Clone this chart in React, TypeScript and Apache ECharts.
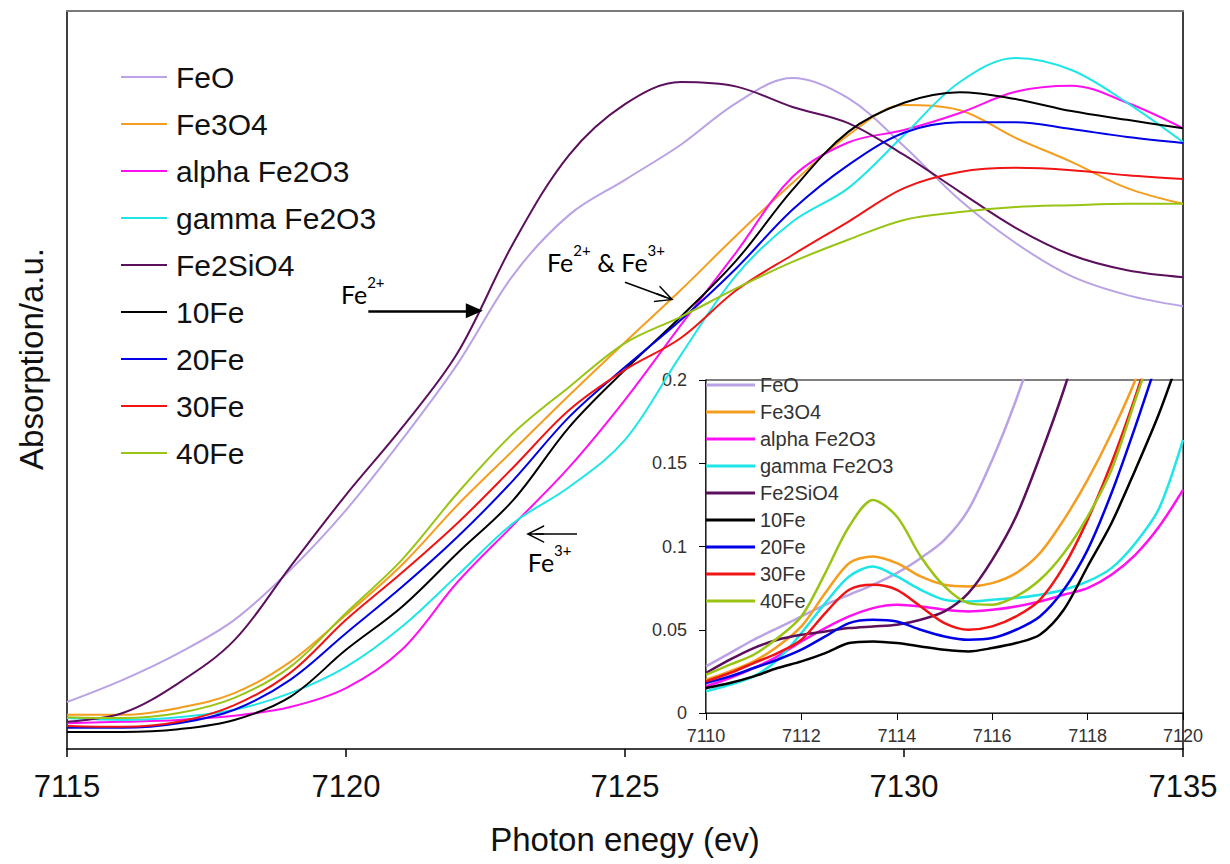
import React, { useEffect, useRef } from 'react';
import * as echarts from 'echarts';

// ---------- data ----------
const seriesNames = ['FeO', 'Fe3O4', 'alpha Fe2O3', 'gamma Fe2O3', 'Fe2SiO4', '10Fe', '20Fe', '30Fe', '40Fe'];
const seriesColors = ['#b9a2e6', '#f59d1e', '#ff10f0', '#1fe6e6', '#5c0f5c', '#000000', '#0000e6', '#f01414', '#99c413'];

// main plot: photon energy (eV) and normalized absorption
const mainEnergy = [7115, 7116, 7117, 7118, 7119, 7120, 7121, 7122, 7123, 7124, 7125, 7126, 7127, 7128, 7129, 7130, 7131, 7132, 7133, 7134, 7135];
const mainFeO = [0.102, 0.150, 0.208, 0.280, 0.388, 0.518, 0.670, 0.835, 1.028, 1.158, 1.234, 1.310, 1.401, 1.455, 1.411, 1.307, 1.190, 1.097, 1.025, 0.984, 0.960];
const mainFe3O4 = [0.074, 0.074, 0.089, 0.121, 0.189, 0.291, 0.399, 0.529, 0.648, 0.767, 0.882, 0.995, 1.114, 1.227, 1.331, 1.396, 1.385, 1.325, 1.273, 1.216, 1.182];
const mainAlpha = [0.056, 0.059, 0.063, 0.072, 0.091, 0.132, 0.215, 0.362, 0.486, 0.611, 0.757, 0.919, 1.078, 1.240, 1.315, 1.342, 1.379, 1.425, 1.438, 1.401, 1.346];
const mainGamma = [0.067, 0.063, 0.069, 0.085, 0.121, 0.178, 0.265, 0.377, 0.490, 0.568, 0.670, 0.854, 1.028, 1.143, 1.216, 1.331, 1.446, 1.498, 1.472, 1.401, 1.316];
const mainFe2SiO4 = [0.059, 0.078, 0.143, 0.236, 0.395, 0.551, 0.696, 0.859, 1.097, 1.288, 1.398, 1.446, 1.436, 1.392, 1.357, 1.288, 1.208, 1.130, 1.071, 1.038, 1.023];
const main10Fe = [0.037, 0.037, 0.043, 0.063, 0.113, 0.215, 0.308, 0.425, 0.540, 0.698, 0.822, 0.937, 1.060, 1.212, 1.338, 1.401, 1.424, 1.409, 1.383, 1.364, 1.346];
const main20Fe = [0.046, 0.046, 0.056, 0.085, 0.150, 0.251, 0.351, 0.460, 0.583, 0.720, 0.828, 0.930, 1.043, 1.169, 1.266, 1.336, 1.359, 1.359, 1.344, 1.327, 1.314];
const main30Fe = [0.050, 0.048, 0.059, 0.095, 0.165, 0.280, 0.382, 0.490, 0.611, 0.735, 0.822, 0.891, 0.995, 1.071, 1.143, 1.216, 1.251, 1.260, 1.255, 1.244, 1.236];
const main40Fe = [0.069, 0.067, 0.078, 0.111, 0.178, 0.295, 0.410, 0.555, 0.685, 0.785, 0.880, 0.937, 0.999, 1.056, 1.104, 1.147, 1.164, 1.175, 1.179, 1.182, 1.182];

// inset: pre-edge region
const insetEnergy = [7110, 7110.5, 7111, 7111.5, 7112, 7112.5, 7113, 7113.5, 7114, 7114.5, 7115, 7115.5, 7116, 7116.5, 7117, 7117.5, 7118, 7118.5, 7119, 7119.5, 7120];
const insetFeO = [0.028, 0.036, 0.044, 0.051, 0.058, 0.065, 0.071, 0.077, 0.084, 0.093, 0.104, 0.122, 0.152, 0.188, 0.230, null, null, null, null, null, null];
const insetFe3O4 = [0.020, 0.025, 0.031, 0.040, 0.052, 0.072, 0.090, 0.094, 0.090, 0.082, 0.077, 0.076, 0.078, 0.084, 0.096, 0.116, 0.140, 0.168, 0.200, 0.240, null];
const insetAlpha = [0.016, 0.021, 0.027, 0.034, 0.043, 0.051, 0.058, 0.063, 0.065, 0.064, 0.062, 0.061, 0.062, 0.064, 0.067, 0.071, 0.075, 0.083, 0.095, 0.112, 0.134];
const insetGamma = [0.013, 0.017, 0.022, 0.032, 0.048, 0.066, 0.082, 0.088, 0.082, 0.074, 0.068, 0.067, 0.068, 0.069, 0.071, 0.074, 0.079, 0.087, 0.102, 0.123, 0.164];
const insetFe2SiO4 = [0.024, 0.032, 0.039, 0.044, 0.047, 0.049, 0.051, 0.052, 0.053, 0.056, 0.061, 0.072, 0.092, 0.118, 0.154, 0.194, 0.240, null, null, null, null];
const inset10Fe = [0.015, 0.018, 0.022, 0.027, 0.031, 0.036, 0.042, 0.043, 0.042, 0.040, 0.038, 0.037, 0.039, 0.042, 0.047, 0.062, 0.088, 0.114, 0.146, 0.180, 0.220];
const inset20Fe = [0.018, 0.022, 0.027, 0.032, 0.038, 0.046, 0.054, 0.056, 0.055, 0.050, 0.046, 0.044, 0.045, 0.050, 0.058, 0.074, 0.098, 0.132, 0.172, 0.215, null];
const inset30Fe = [0.019, 0.024, 0.030, 0.036, 0.044, 0.060, 0.074, 0.077, 0.074, 0.064, 0.054, 0.050, 0.052, 0.058, 0.068, 0.088, 0.116, 0.150, 0.190, 0.235, null];
const inset40Fe = [0.023, 0.029, 0.035, 0.045, 0.058, 0.084, 0.112, 0.128, 0.118, 0.094, 0.076, 0.066, 0.065, 0.070, 0.080, 0.096, 0.118, 0.146, 0.188, 0.230, null];

const mainValues = [mainFeO, mainFe3O4, mainAlpha, mainGamma, mainFe2SiO4, main10Fe, main20Fe, main30Fe, main40Fe];
const insetValues = [insetFeO, insetFe3O4, insetAlpha, insetGamma, insetFe2SiO4, inset10Fe, inset20Fe, inset30Fe, inset40Fe];

// axis ranges / ticks
const mainXMin = 7115, mainXMax = 7135, mainXStep = 5;
const mainYMin = 0, mainYMax = 1.6;
const insetXMin = 7110, insetXMax = 7120, insetXStep = 2;
const insetYMin = 0, insetYMax = 0.2, insetYStep = 0.05;

// annotations (data coordinates)
const annoFe2Text = [7120.3, 0.995];
const annoFe2Arrow = [[7120.4, 0.95], [7122.3, 0.95]];
const annoMixText = [7124.66, 1.064];
const annoMixArrow = [[7125.0, 1.012], [7125.72, 0.98]];
const annoFe3Text = [7123.65, 0.414];
const annoFe3Arrow = [[7124.14, 0.466], [7123.39, 0.466]];

const SANS = '"Liberation Sans", Arial, sans-serif';
const CAL = 'Lato, "Open Sans", sans-serif';

const chevron = 'path://M9,0 L18,18 L16.4,18 L9.8,4.8 L9.8,18 L8.2,18 L8.2,4.8 L1.6,18 L0,18 Z';

const richSup = {
  b: { fontSize: 25, fontFamily: CAL, color: '#000', lineHeight: 32, verticalAlign: 'bottom' },
  s: { fontSize: 15, fontFamily: CAL, color: '#000', lineHeight: 16, verticalAlign: 'top' },
};

const plainNum = (v: number) => String(v);

export default function App() {
  const ref = useRef<HTMLDivElement>(null);
  useEffect(() => {
    if (!ref.current) return;
    const chart = echarts.init(ref.current, null, { renderer: 'svg' });

    const mainSeries = seriesNames.map((name, i) => {
      const s: any = {
        name,
        type: 'line',
        xAxisIndex: 0,
        yAxisIndex: 0,
        data: mainEnergy.map((e, j) => [e, mainValues[i][j]]),
        symbol: 'none',
        smooth: 0.35,
        lineStyle: { color: seriesColors[i], width: 2 },
        itemStyle: { color: seriesColors[i] },
        z: 3,
      };
      if (name === '10Fe') {
        s.markLine = {
          silent: true,
          animation: false,
          label: { show: false },
          data: [
            [
              { coord: annoFe2Arrow[0], symbol: 'none', lineStyle: { color: '#000', width: 2.5, type: 'solid' } },
              { coord: annoFe2Arrow[1], symbol: 'triangle', symbolSize: [15, 17] },
            ],
            [
              { coord: annoMixArrow[0], symbol: 'none', lineStyle: { color: '#000', width: 1.6, type: 'solid' } },
              { coord: annoMixArrow[1], symbol: chevron, symbolSize: [18, 18] },
            ],
            [
              { coord: annoFe3Arrow[0], symbol: 'none', lineStyle: { color: '#000', width: 1.6, type: 'solid' } },
              { coord: annoFe3Arrow[1], symbol: chevron, symbolSize: [18, 18] },
            ],
          ],
          lineStyle: { color: '#000', type: 'solid' },
          itemStyle: { color: '#000' },
        };
        s.markPoint = {
          silent: true,
          animation: false,
          symbol: 'circle',
          symbolSize: 1,
          itemStyle: { color: 'rgba(0,0,0,0)' },
          label: { show: true, position: 'inside', rich: richSup },
          data: [
            { coord: annoFe2Text, label: { formatter: '{b|Fe}{s|2+}', rich: richSup } },
            { coord: annoMixText, label: { formatter: '{b|Fe}{s|2+}{b| & Fe}{s|3+}', rich: richSup } },
            { coord: annoFe3Text, label: { formatter: '{b|Fe}{s|3+}', rich: richSup } },
          ],
        };
      }
      return s;
    });

    const insetSeries = seriesNames.map((name, i) => ({
      name,
      type: 'line',
      xAxisIndex: 2,
      yAxisIndex: 2,
      data: insetEnergy.map((e, j) => [e, insetValues[i][j]]),
      symbol: 'none',
      smooth: 0.3,
      connectNulls: false,
      lineStyle: { color: seriesColors[i], width: 2.5 },
      itemStyle: { color: seriesColors[i] },
      z: 4,
    }));

    chart.setOption({
      animation: false,
      backgroundColor: '#fff',
      textStyle: { fontFamily: SANS },
      grid: [
        { left: 67, right: 47, top: 11, bottom: 115, containLabel: false },
        { left: 706, right: 47, top: 380, bottom: 151, containLabel: false, show: true, backgroundColor: '#fff', borderColor: '#000', borderWidth: 1, z: 1 },
      ],
      legend: [
        {
          data: seriesNames,
          orient: 'vertical',
          left: 121,
          top: 62,
          padding: 0,
          icon: 'rect',
          itemWidth: 46,
          itemHeight: 2,
          itemGap: 17,
          selectedMode: false,
          textStyle: { fontSize: 30, color: '#111', fontFamily: SANS, padding: [0, 0, 0, 4] },
        },
        {
          data: seriesNames,
          orient: 'vertical',
          left: 706,
          top: 375,
          padding: 0,
          icon: 'rect',
          itemWidth: 49,
          itemHeight: 3,
          itemGap: 7,
          selectedMode: false,
          textStyle: { fontSize: 20, color: '#333', fontFamily: SANS },
          z: 5,
        },
      ],
      xAxis: [
        {
          gridIndex: 0, type: 'value', min: mainXMin, max: mainXMax, interval: mainXStep, position: 'bottom',
          axisLine: { show: true, onZero: false, lineStyle: { color: '#000', width: 1.5 } },
          axisTick: { show: true, inside: false, length: 8, lineStyle: { color: '#000', width: 1.5 } },
          axisLabel: { fontSize: 31, color: '#111', margin: 22, fontFamily: SANS, formatter: plainNum },
          splitLine: { show: false },
          name: 'Photon enegy (ev)', nameLocation: 'middle', nameGap: 74,
          nameTextStyle: { fontSize: 33, color: '#111', fontFamily: SANS },
        },
        {
          gridIndex: 0, type: 'value', min: mainXMin, max: mainXMax, position: 'top',
          axisLine: { show: true, onZero: false, lineStyle: { color: '#7a7a7a', width: 2 } },
          axisTick: { show: false }, axisLabel: { show: false }, splitLine: { show: false },
        },
        {
          gridIndex: 1, type: 'value', min: insetXMin, max: insetXMax, interval: insetXStep, position: 'bottom',
          axisLine: { show: true, onZero: false, lineStyle: { color: '#000', width: 1.5 } },
          axisTick: { show: true, inside: false, length: 7, lineStyle: { color: '#000' } },
          axisLabel: { fontSize: 18, color: '#333', margin: 14, fontFamily: SANS, formatter: plainNum },
          splitLine: { show: false },
        },
      ],
      yAxis: [
        {
          gridIndex: 0, type: 'value', min: mainYMin, max: mainYMax, position: 'left',
          axisLine: { show: true, onZero: false, lineStyle: { color: '#000', width: 1.5 } },
          axisTick: { show: false }, axisLabel: { show: false }, splitLine: { show: false },
        },
        {
          gridIndex: 0, type: 'value', min: mainYMin, max: mainYMax, position: 'right',
          axisLine: { show: true, onZero: false, lineStyle: { color: '#000', width: 1.5 } },
          axisTick: { show: false }, axisLabel: { show: false }, splitLine: { show: false },
        },
        {
          gridIndex: 1, type: 'value', min: insetYMin, max: insetYMax, interval: insetYStep, position: 'left',
          axisLine: { show: true, onZero: false, lineStyle: { color: '#000', width: 1.5 } },
          axisTick: { show: true, inside: false, length: 7, lineStyle: { color: '#000' } },
          axisLabel: { fontSize: 18, color: '#333', margin: 19, fontFamily: SANS },
          splitLine: { show: false },
        },
      ],
      graphic: [
        {
          type: 'text',
          x: 31,
          y: 359,
          rotation: Math.PI / 2,
          style: {
            text: 'Absorption/a.u.',
            fontSize: 33,
            fontFamily: SANS,
            fill: '#111',
            align: 'center',
            verticalAlign: 'middle',
          },
        },
      ],
      series: [...mainSeries, ...insetSeries],
    });

    return () => chart.dispose();
  }, []);

  return (
    <div
      ref={ref}
      style={{ position: 'absolute', left: 0, top: 0, width: 1230, height: 864, background: '#fff' }}
    />
  );
}
